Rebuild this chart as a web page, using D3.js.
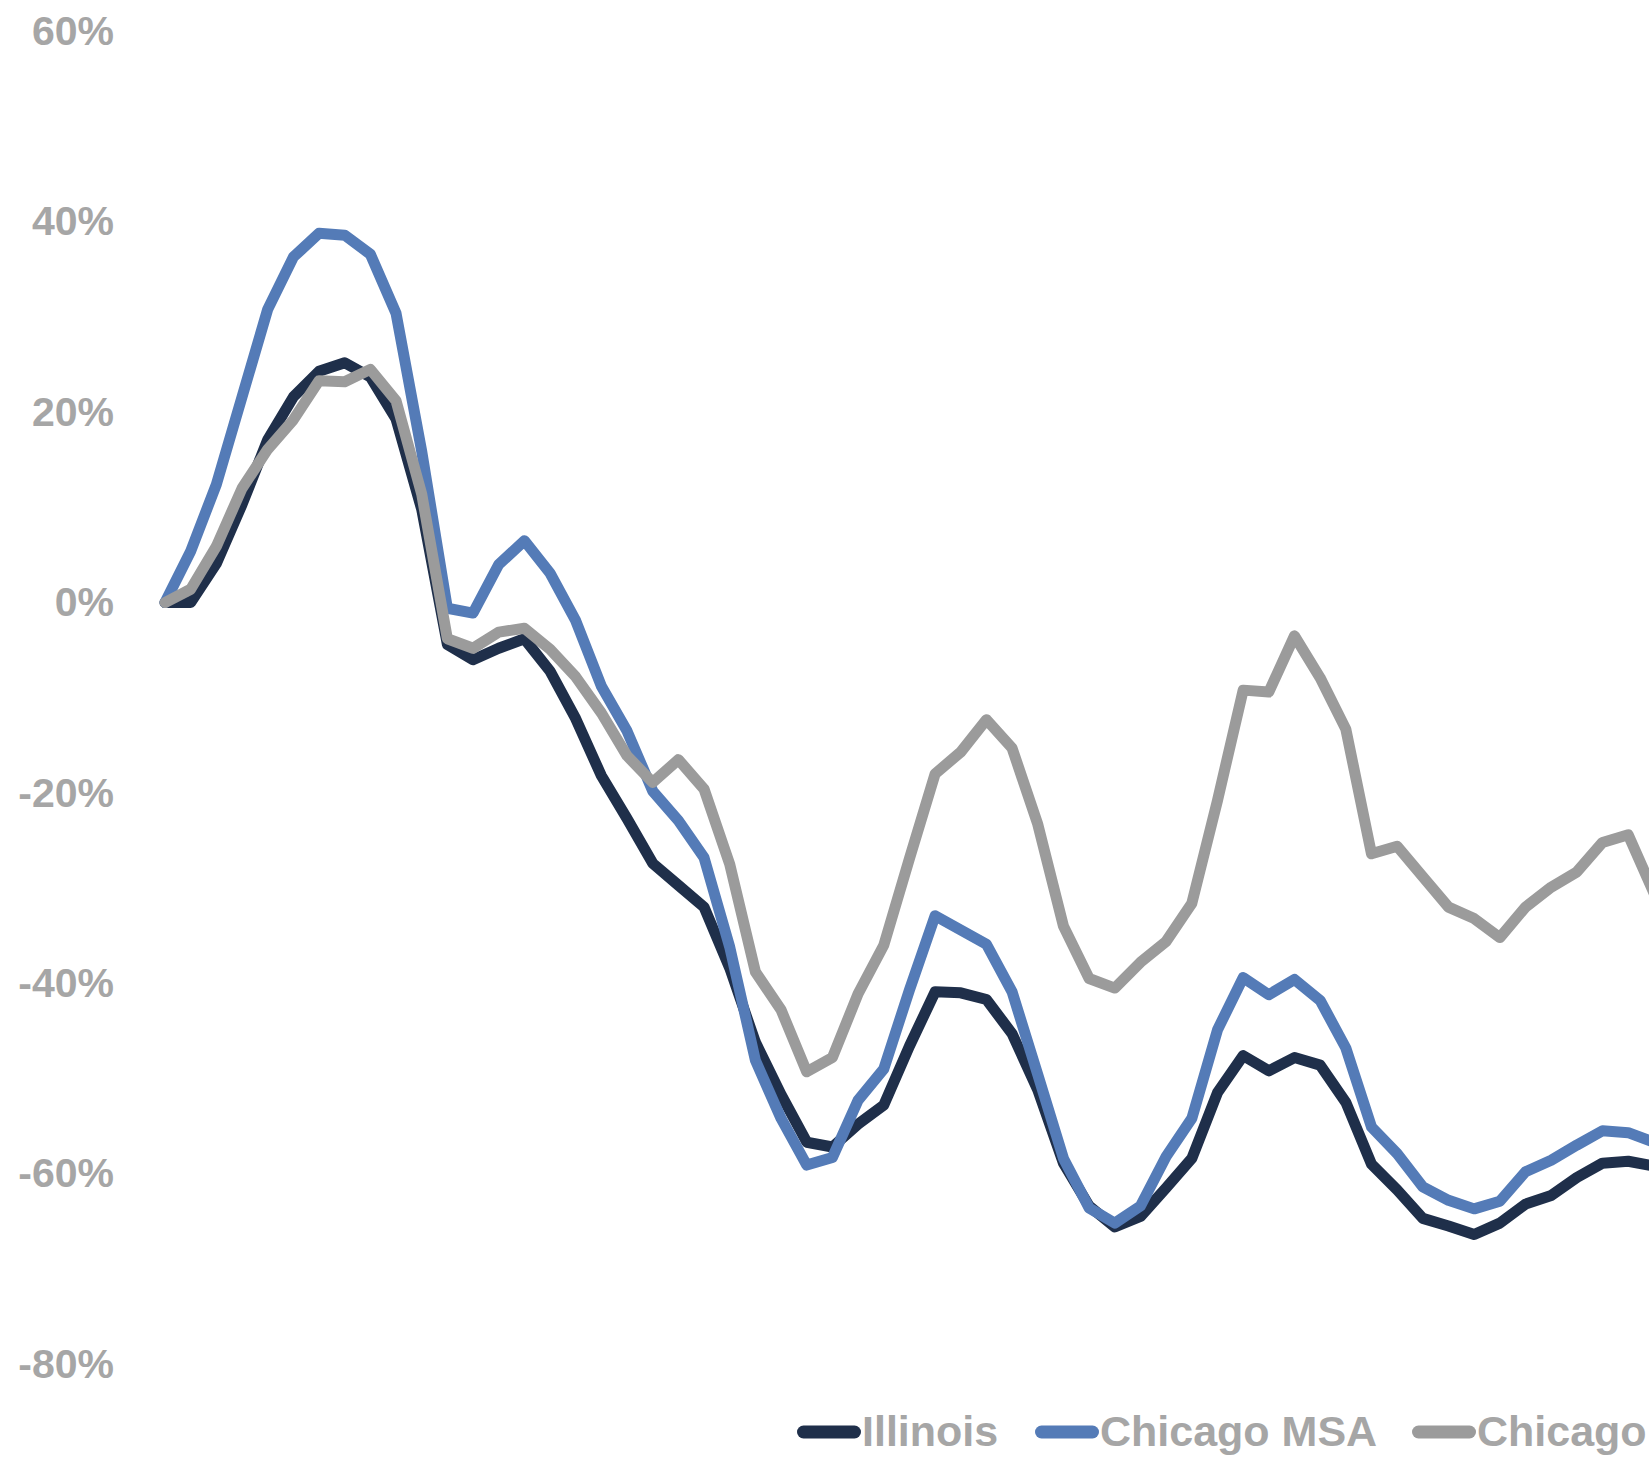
<!DOCTYPE html>
<html lang="en">
  <head>
    <meta charset="utf-8">
    <title>Illinois vs Chicago</title>
    <script src="https://cdn.jsdelivr.net/npm/d3@7/dist/d3.min.js"></script>
    <style>
      body { margin: 0; background: #fff; }
      svg { display: block; }
    </style>
  </head>
  <body>
    <div id="chart"></div>

    <script type="text/javascript">
      // series values, % change
      let illinois = [0, 0, 4.1, 10.3, 17.1, 21.6, 24.3, 25.2, 23.7, 19.3,
        9.8, -4.4, -6.0, -4.8, -3.8, -7.2, -12.2, -18.2, -22.7, -27.4,
        -29.7, -32.0, -38.4, -46.2, -51.7, -56.7, -57.2, -54.8, -52.8, -46.6,
        -40.9, -41.0, -41.7, -45.3, -51.2, -58.9, -63.4, -65.6, -64.5, -61.5,
        -58.4, -51.5, -47.6, -49.2, -47.8, -48.6, -52.5, -59.0, -61.7, -64.7,
        -65.5, -66.4, -65.2, -63.2, -62.3, -60.4, -58.9, -58.7, -59.2]

      let chicagoMsa = [0, 5.4, 12.4, 21.6, 30.8, 36.3, 38.8, 38.6, 36.6, 30.4,
        15.9, -0.6, -1.1, 4.0, 6.5, 3.1, -1.9, -8.8, -13.5, -19.8,
        -22.9, -26.8, -36.2, -48.1, -54.2, -59.1, -58.3, -52.3, -49.0, -40.7,
        -32.9, -34.4, -35.9, -40.9, -49.6, -58.4, -63.6, -65.2, -63.4, -58.2,
        -54.2, -44.9, -39.4, -41.2, -39.6, -41.8, -46.8, -55.1, -57.9, -61.4,
        -62.8, -63.7, -62.9, -59.8, -58.6, -57.0, -55.5, -55.7, -56.7]

      let chicago = [0, 1.4, 5.9, 12.0, 16.1, 19.2, 23.3, 23.2, 24.5, 21.2,
        11.4, -3.8, -4.8, -3.1, -2.7, -4.9, -7.8, -11.6, -16.1, -18.9,
        -16.5, -19.6, -27.5, -38.8, -42.8, -49.3, -47.8, -41.1, -36.0, -26.9,
        -18.0, -15.7, -12.3, -15.3, -23.3, -34.0, -39.5, -40.5, -37.8, -35.6,
        -31.6, -20.8, -9.2, -9.4, -3.5, -7.9, -13.3, -26.4, -25.6, -28.8,
        -32.0, -33.2, -35.2, -32.0, -29.9, -28.3, -25.2, -24.4, -30.5]

      let seriesNames = ['Illinois', 'Chicago MSA', 'Chicago']
      let seriesColors = ['#1f2f4a', '#547bb7', '#9b9b9b']
      let yTicks = [-80, -60, -40, -20, 0, 20, 40, 60]

      let width = 1649
      let height = 1457

      let svg = d3.select('#chart').append('svg')
        .attr('width', width)
        .attr('height', height)

      let scale_x = d3.scaleLinear()
        .domain([0, illinois.length - 1])
        .range([165, 165 + 25.67 * (illinois.length - 1)])

      let scale_y = d3.scaleLinear()
        .domain([-80, 60])
        .range([1364, 31.5])

      // y axis: labels only
      let y_axis = d3.axisLeft(scale_y)
        .tickValues(yTicks)
        .tickSize(0)
        .tickPadding(0)
        .tickFormat((d) => d + '%')
      let yg = svg.append('g')
        .attr('transform', 'translate(114,0)')
        .call(y_axis)
      yg.select('.domain').remove()
      yg.selectAll('text')
        .attr('font-family', '"Liberation Sans", Arial, sans-serif')
        .attr('font-weight', 'bold')
        .attr('font-size', '41px')
        .attr('fill', '#a6a6a6')

      let line = d3.line()
        .x((d, i) => scale_x(i))
        .y((d) => scale_y(d))

      let allSeries = [illinois, chicagoMsa, chicago]
      svg.selectAll('path.series')
        .data(allSeries)
        .enter()
        .append('path')
        .attr('class', 'series')
        .attr('d', (d) => line(d))
        .attr('fill', 'none')
        .attr('stroke', (d, i) => seriesColors[i])
        .attr('stroke-width', 11)
        .attr('stroke-linejoin', 'round')
        .attr('stroke-linecap', 'round')

      // legend
      let legendX = [797, 1035, 1412]
      let legend = svg.selectAll('g.legend')
        .data(seriesNames)
        .enter()
        .append('g')
        .attr('class', 'legend')
        .attr('transform', (d, i) => 'translate(' + legendX[i] + ',1432)')

      legend.append('line')
        .attr('x1', 6.5).attr('x2', 57.5)
        .attr('y1', 0).attr('y2', 0)
        .attr('stroke', (d, i) => seriesColors[i])
        .attr('stroke-width', 13)
        .attr('stroke-linecap', 'round')

      legend.append('text')
        .attr('x', 65)
        .attr('y', 14)
        .attr('font-family', '"Liberation Sans", Arial, sans-serif')
        .attr('font-weight', 'bold')
        .attr('font-size', '43px')
        .attr('fill', '#a6a6a6')
        .text((d) => d)
    </script>
  </body>
</html>
